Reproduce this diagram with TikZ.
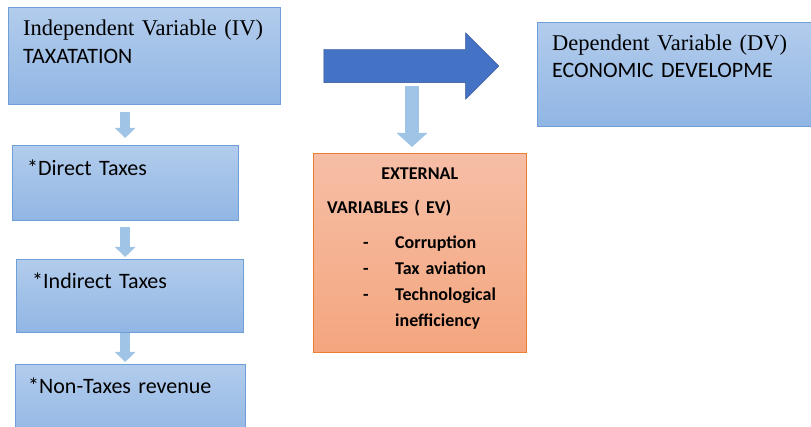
\documentclass[tikz,border=0pt]{standalone}
\usepackage{fontspec}
\setmainfont{Liberation Serif}
\newfontfamily\calibri{Carlito}
\usetikzlibrary{arrows.meta,shapes.arrows}
\definecolor{boxtop}{RGB}{178,204,236}
\definecolor{boxbot}{RGB}{145,182,228}
\definecolor{boxline}{RGB}{112,158,214}
\definecolor{evtop}{RGB}{246,190,166}
\definecolor{evbot}{RGB}{244,166,126}
\definecolor{evline}{RGB}{237,125,49}
\definecolor{bigfill}{RGB}{68,114,196}
\definecolor{bigline}{RGB}{47,82,143}
\definecolor{smallarr}{RGB}{160,196,230}
\tikzset{
  varbox/.style={draw=boxline, top color=boxtop, bottom color=boxbot, rectangle,
    anchor=north west, align=left, inner ysep=0pt},
  evbox/.style={draw=evline, top color=evtop, bottom color=evbot, rectangle,
    anchor=north west, align=left, inner ysep=0pt},
  downarr/.style={color=smallarr, line width=10pt,
    -{Triangle[width=20pt,length=10pt]}},
}
\begin{document}
\begin{tikzpicture}[x=1pt,y=-1pt]
      \useasboundingbox (0,0) rectangle (811,427);
      % left column
      \draw (8,7) node[varbox, inner xsep=15pt, text width=242pt, text height=28pt, text depth=69pt,
        font=\fontsize{22.5}{28}\selectfont] (iv) {Independent Variable (IV)\\{\calibri\fontsize{22}{28}\selectfont TAXATATION}};
      \draw (12,145) node[varbox, inner xsep=15pt, text width=196pt, text height=30pt, text depth=45pt,
        font=\calibri\fontsize{22}{27}\selectfont] (dt) {*Direct Taxes};
      \draw (16,259) node[varbox, inner xsep=16pt, text width=195pt, text height=29pt, text depth=44pt,
        font=\calibri\fontsize{22}{27}\selectfont] (it) {*Indirect Taxes};
      \draw (15,364) node[varbox, inner xsep=13pt, text width=204pt, text height=29pt, text depth=47pt,
        font=\calibri\fontsize{22}{27}\selectfont] (nt) {*Non-Taxes revenue};
      \draw[downarr, shorten <=8pt, shorten >=7pt] (dt.north |- iv.south) -- (dt.north);
      \draw[downarr, shorten <=7pt, shorten >=2pt] (dt.south) -- (dt.south |- it.north);
      \draw[downarr, shorten <=1pt, shorten >=2pt] (dt.south |- it.south) -- (dt.south |- nt.north);
      % right part
      \draw (537,22) node[varbox, inner xsep=15pt, text width=248pt, text height=28pt, text depth=76pt,
        font=\fontsize{22.5}{27}\selectfont] (dv) {Dependent Variable (DV)\\{\calibri\fontsize{22}{27}\selectfont ECONOMIC DEVELOPME}};
      \draw (403,66) node[single arrow, draw=bigline, fill=bigfill, inner xsep=0pt, inner ysep=16.5pt,
        minimum width=66pt, single arrow head extend=16.5pt, minimum height=175pt] (bigarr) {};
      \draw (313,153) node[evbox, inner xsep=14pt, text width=185pt, text height=26pt, text depth=173pt,
        font=\calibri\bfseries\fontsize{18}{26}\selectfont] (ev)
        {\makebox[\linewidth][c]{EXTERNAL}\\[8pt]
         VARIABLES ( EV)\\[9pt]
         \hspace*{36pt}\makebox[32pt][l]{-}Corruption\\
         \hspace*{36pt}\makebox[32pt][l]{-}Tax aviation\\
         \hspace*{36pt}\makebox[32pt][l]{-}Technological\\
         \hspace*{68pt}inefficiency};
      \draw[downarr, line width=14pt, -{Triangle[width=30pt,length=14pt]},
        shorten <=20pt, shorten >=6pt] ([xshift=9pt]bigarr.center) -- ([xshift=9pt]bigarr.center |- ev.north);
\end{tikzpicture}
\end{document}
